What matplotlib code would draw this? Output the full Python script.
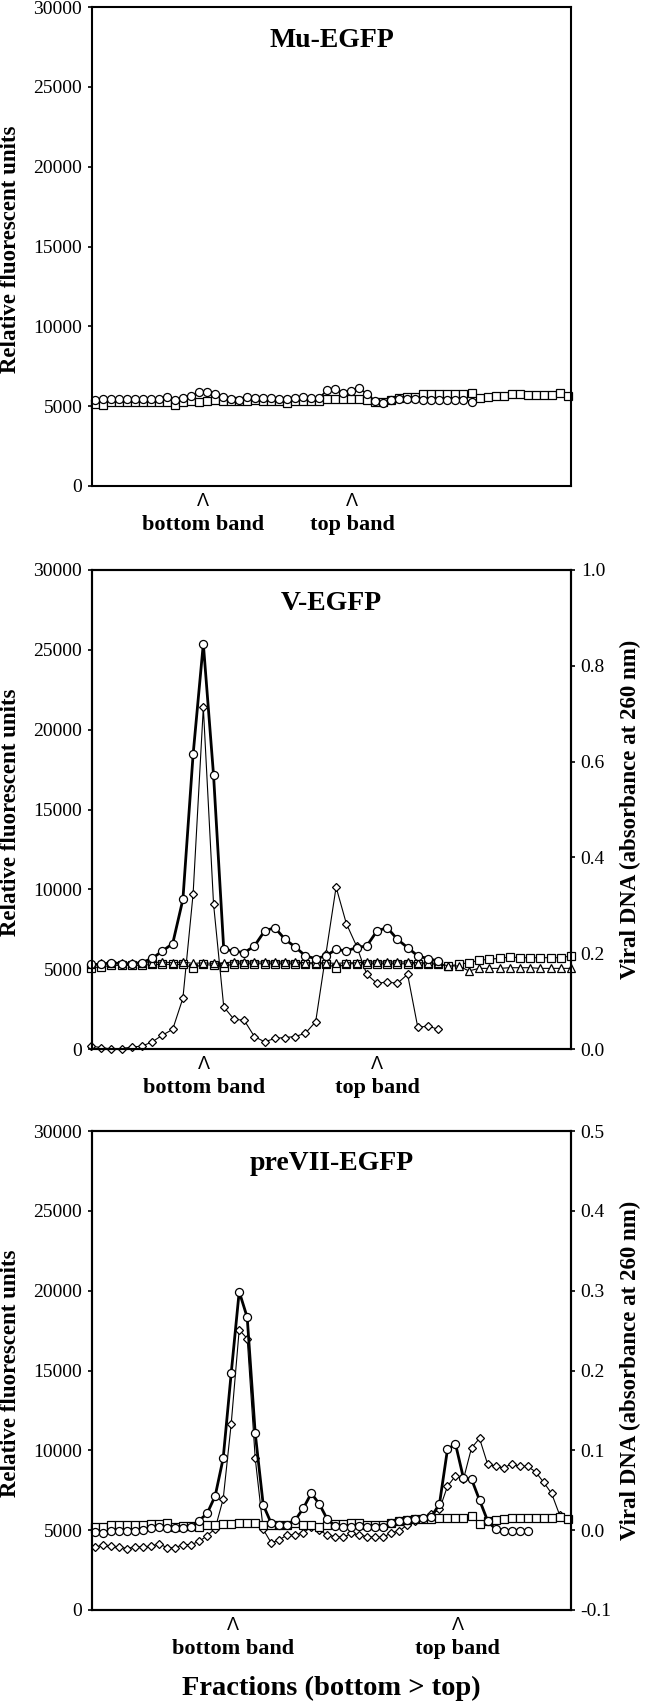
import numpy as np
import matplotlib
matplotlib.use('Agg')
import matplotlib.pyplot as plt
from matplotlib.transforms import blended_transform_factory

plt.rcParams['font.family'] = ['Liberation Serif', 'DejaVu Serif']

# ---------------- data ----------------
# Panel 1: Mu-EGFP (relative fluorescent units)
mu_circles = [5390, 5450, 5450, 5450, 5450, 5450, 5450, 5450, 5450, 5570, 5390, 5490,
              5640, 5870, 5870, 5760, 5570, 5450, 5410, 5570, 5490, 5490, 5490, 5450,
              5450, 5530, 5570, 5530, 5530, 6010, 6050, 5850, 5950, 6120, 5740, 5320,
              5180, 5390, 5450, 5450, 5450, 5390, 5390, 5390, 5390, 5390, 5390, 5280]
mu_squares = [5115, 5073, 5240, 5240, 5240, 5240, 5240, 5240, 5282, 5282, 5073, 5240,
              5324, 5240, 5324, 5365, 5324, 5324, 5324, 5324, 5365, 5324, 5324, 5324,
              5177, 5324, 5324, 5324, 5324, 5449, 5449, 5449, 5449, 5449, 5365, 5240,
              5282, 5365, 5532, 5574, 5574, 5741, 5741, 5741, 5741, 5741, 5741, 5825,
              5491, 5574, 5616, 5658, 5741, 5741, 5699, 5699, 5699, 5699, 5825, 5658]

# Panel 2: V-EGFP
v_circles = [5300, 5300, 5410, 5340, 5340, 5410, 5680, 6140, 6600, 9370, 18450, 25390,
             17160, 6240, 6140, 6030, 6450, 7390, 7600, 6870, 6390, 5830, 5660, 5830,
             6240, 6140, 6350, 6450, 7390, 7600, 6870, 6350, 5830, 5660, 5510]
v_squares = [5090, 5140, 5240, 5240, 5240, 5240, 5300, 5300, 5300, 5300, 5090, 5300,
             5240, 5160, 5340, 5340, 5340, 5340, 5340, 5340, 5340, 5340, 5340, 5340,
             5090, 5340, 5340, 5340, 5340, 5340, 5340, 5340, 5340, 5340, 5300, 5200,
             5300, 5410, 5550, 5620, 5680, 5760, 5720, 5720, 5720, 5720, 5720, 5830]
v_triangles = [5300, 5360, 5360, 5400, 5360, 5400, 5400, 5450, 5400, 5450, 5360, 5400,
               5360, 5400, 5450, 5450, 5450, 5450, 5450, 5450, 5450, 5400, 5400, 5400,
               5360, 5400, 5400, 5450, 5450, 5450, 5450, 5450, 5400, 5400, 5360, 5200,
               5200, 4890, 5050, 5050, 5050, 5090, 5090, 5090, 5050, 5050, 5050, 5050]
v_dna = [0.006, 0.003, 0.000, 0.001, 0.004, 0.006, 0.015, 0.029, 0.041, 0.106, 0.324, 0.713,
         0.303, 0.088, 0.062, 0.060, 0.026, 0.015, 0.022, 0.024, 0.026, 0.033, 0.057, 0.198,
         0.338, 0.262, 0.215, 0.156, 0.137, 0.140, 0.137, 0.156, 0.045, 0.048, 0.041]

# Panel 3: preVII-EGFP
p_circles = [4910, 4800, 4970, 4970, 4970, 4970, 5010, 5120, 5180, 5120, 5120, 5120,
             5180, 5600, 6050, 7140, 9500, 14820, 19940, 18330, 11070, 6580, 5430, 5320,
             5320, 5640, 6370, 7310, 6640, 5680, 5260, 5180, 5220, 5260, 5220, 5180,
             5220, 5430, 5600, 5640, 5680, 5740, 5850, 6640, 10060, 10400, 8250, 8200,
             6890, 5600, 5050, 4970, 4970, 4970, 4970]
p_squares = [5220, 5180, 5320, 5320, 5320, 5320, 5320, 5390, 5390, 5430, 5180, 5260,
             5260, 5180, 5320, 5320, 5390, 5390, 5430, 5470, 5430, 5320, 5320, 5320,
             5320, 5430, 5320, 5320, 5220, 5320, 5390, 5390, 5430, 5430, 5320, 5320,
             5320, 5470, 5600, 5640, 5680, 5680, 5720, 5740, 5740, 5740, 5740, 5910,
             5390, 5600, 5640, 5680, 5740, 5740, 5740, 5740, 5740, 5740, 5800, 5680]
p_dna = [-0.021, -0.019, -0.020, -0.021, -0.023, -0.021, -0.021, -0.020, -0.017, -0.022,
         -0.022, -0.018, -0.018, -0.014, -0.007, 0.002, 0.039, 0.133, 0.251, 0.240,
         0.090, 0.001, -0.016, -0.012, -0.006, -0.006, -0.003, 0.004, 0.000, -0.006,
         -0.008, -0.009, -0.004, -0.006, -0.008, -0.009, -0.009, -0.003, -0.001, 0.007,
         0.011, 0.015, 0.020, 0.026, 0.055, 0.068, 0.064, 0.103, 0.115, 0.083,
         0.080, 0.078, 0.083, 0.080, 0.080, 0.073, 0.060, 0.046, 0.019]

titles = ['Mu-EGFP', 'V-EGFP', 'preVII-EGFP']
band_labels = ['bottom band', 'top band']
band_pos = [(13.5, 32.1), (11.1, 28.0), (17.2, 45.3)]
left_ticks = [0, 5000, 10000, 15000, 20000, 25000, 30000]
v_right_ticks = [0.0, 0.2, 0.4, 0.6, 0.8, 1.0]
p_right_ticks = [-0.1, 0.0, 0.1, 0.2, 0.3, 0.4, 0.5]

# ---------------- layout ----------------
W, H = 646, 1703
fig = plt.figure(figsize=(W / 100, H / 100), dpi=100)
AX_L, AX_W, AX_H = 92, 479, 479
tops = [7, 570, 1131]

TICK_FS = 14
LABEL_FS = 16.5
PT = 0.72  # points per pixel at 100 dpi

circ = dict(marker='o', ms=5.8, mfc='white', mec='black', mew=0.9, color='black', clip_on=False)
sq = dict(marker='s', ms=5.6, mfc='white', mec='black', mew=0.9, color='black', lw=0.8, clip_on=False)
tri = dict(marker='^', ms=6.2, mfc='white', mec='black', mew=0.9, color='black', lw=0.8, clip_on=False)
dia = dict(marker='D', ms=4.2, mfc='white', mec='black', mew=0.9, color='black', lw=0.8, clip_on=False)


def make_axes(top):
    return fig.add_axes([AX_L / W, 1 - (top + AX_H) / H, AX_W / W, AX_H / H])


def style_left(ax):
    ax.set_ylim(0, 30000)
    ax.set_yticks(left_ticks)
    ax.set_yticklabels([str(t) for t in left_ticks])
    ax.set_xticks([])
    for s in ax.spines.values():
        s.set_linewidth(1.5)
    ax.tick_params(axis='y', direction='out', length=3, width=1.2, labelsize=TICK_FS, pad=4)


def decorate(ax, idx, top):
    ax.text(0.5, 1 - 33 / AX_H, titles[idx], transform=ax.transAxes, ha='center', va='center',
            fontsize=20, fontweight='bold')
    tr = blended_transform_factory(ax.transData, ax.transAxes)
    for xp, lab in zip(band_pos[idx], band_labels):
        ax.annotate('\u039b', xy=(xp, 0), xycoords=tr, xytext=(0, -20 * PT), textcoords='offset points',
                    ha='center', va='baseline', fontsize=13, family=['Liberation Sans'],
                    annotation_clip=False)
        ax.annotate(lab, xy=(xp, 0), xycoords=tr, xytext=(0, -44 * PT), textcoords='offset points',
                    ha='center', va='baseline', fontsize=16, fontweight='bold', annotation_clip=False)
    yc = 1 - (top + AX_H / 2 + 3) / H
    fig.text(11 / W, yc, 'Relative fluorescent units', rotation=90, ha='center', va='center',
             fontsize=LABEL_FS, fontweight='bold')


def right_axis(ax, lims, ticks, fmt, top):
    ax2 = ax.twinx()
    ax2.set_ylim(*lims)
    ax2.set_yticks(ticks)
    ax2.set_yticklabels([fmt(t) for t in ticks])
    ax2.tick_params(axis='y', direction='out', length=3, width=1.2, labelsize=TICK_FS, pad=4)
    for s in ax2.spines.values():
        s.set_linewidth(1.5)
    ax.set_zorder(ax2.get_zorder() + 1)
    ax.patch.set_visible(False)
    yc = 1 - (top + AX_H / 2) / H
    fig.text(630 / W, yc, 'Viral DNA (absorbance at 260 nm)', rotation=90, ha='center', va='center',
             fontsize=LABEL_FS, fontweight='bold')
    return ax2


# Panel 1
ax1 = make_axes(tops[0])
ax1.plot(np.arange(len(mu_squares)), mu_squares, **sq)
ax1.plot(np.arange(len(mu_circles)), mu_circles, lw=1.2, **circ)
ax1.set_xlim(-0.375, 59.42)
style_left(ax1)
decorate(ax1, 0, tops[0])

# Panel 2
ax2 = make_axes(tops[1])
x48 = np.arange(len(v_squares))
r2 = right_axis(ax2, (0, 1.0), v_right_ticks, lambda t: f'{t:.1f}', tops[1])
r2.plot(np.arange(len(v_dna)), v_dna, **dia)
ax2.plot(x48, v_squares, **sq)
ax2.plot(x48, v_triangles, **tri)
ax2.plot(np.arange(len(v_circles)), v_circles, lw=2.0, **circ)
ax2.set_xlim(0.1, 47.0)
r2.set_xlim(0.1, 47.0)
style_left(ax2)
decorate(ax2, 1, tops[1])

# Panel 3
ax3 = make_axes(tops[2])
r3 = right_axis(ax3, (-0.1, 0.5), p_right_ticks, lambda t: f'{t:.1f}', tops[2])
r3.plot(np.arange(len(p_dna)), p_dna, **dia)
ax3.plot(np.arange(len(p_squares)), p_squares, **sq)
ax3.plot(np.arange(len(p_circles)), p_circles, lw=2.0, **circ)
ax3.set_xlim(-0.375, 59.42)
r3.set_xlim(-0.375, 59.42)
style_left(ax3)
decorate(ax3, 2, tops[2])

fig.text(331 / W, 1 - 1695 / H, 'Fractions (bottom > top)', ha='center', va='baseline',
         fontsize=20.5, fontweight='bold')

fig.savefig('out.png', dpi=100)
